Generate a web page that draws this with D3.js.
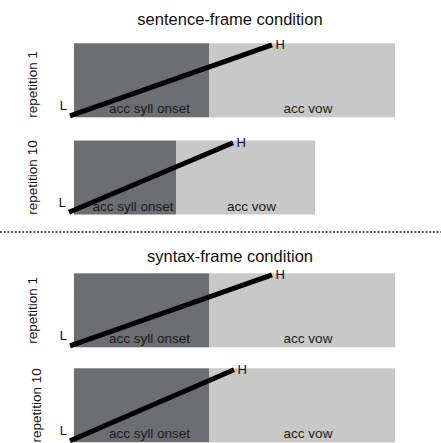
<!DOCTYPE html>
<html>
<head>
<meta charset="utf-8">
<script src="https://cdn.jsdelivr.net/npm/d3@7"></script>
<style>
  html, body { margin: 0; padding: 0; background: #fff; }
  svg { display: block; }
  text { font-family: "Liberation Sans", Arial, sans-serif; }
</style>
</head>
<body>
<script>
// ---- data ----
const conditions   = ["sentence-frame condition", "syntax-frame condition"];
const panelCond    = [0, 0, 1, 1];
const panelLabels  = ["repetition 1", "repetition 10", "repetition 1", "repetition 10"];
const onsetDur     = [135, 102, 135, 135];   // accented syllable onset duration (time units)
const vowelDur     = [186, 139, 186, 186];   // accented vowel duration
const lTime        = [-4, -5, -4, -4];       // L target time relative to onset start
const hTime        = [198, 159, 198, 160];   // H target time relative to onset start
const lLevel       = [0.02, 0.03, 0.02, 0.02];
const hLevel       = [0.98, 0.97, 0.98, 0.98];
const segLabels    = ["acc syll onset", "acc vow"];
const toneLabels   = ["L", "H"];

// ---- layout ----
const W = 441, H = 443;
const panelTop = [43.3, 140.5, 273.3, 368.3];
const panelH = 74;
const titleY = [24.5, 262];
const sepY = 232;

const svg = d3.select("body").append("svg")
  .attr("width", W).attr("height", H);

const x = d3.scaleLinear().domain([0, 330]).range([74, 404]);

// titles
svg.selectAll("text.title").data(conditions).join("text")
  .attr("class", "title")
  .attr("x", 230)
  .attr("y", (d, i) => titleY[i])
  .attr("text-anchor", "middle")
  .attr("font-size", 16.5)
  .attr("fill", "#111")
  .text(d => d);

// separator
svg.append("line")
  .attr("x1", 0).attr("x2", W)
  .attr("y1", sepY).attr("y2", sepY)
  .attr("stroke", "#222")
  .attr("stroke-width", 1.6)
  .attr("stroke-dasharray", "2,1.7");

const labelShift = [4, 0, 0, 0];
const labelX = [33, 33, 33, 37];

panelLabels.forEach((lab, i) => {
  const top = panelTop[i];
  const y = d3.scaleLinear().domain([0, 1]).range([top + panelH, top]);
  const g = svg.append("g");

  const segs = [
    { start: 0, end: onsetDur[i], fill: "#6d6e71", label: segLabels[0], shift: 8 },
    { start: onsetDur[i], end: onsetDur[i] + vowelDur[i], fill: "#c8c8c8", label: segLabels[1], shift: 6 }
  ];

  g.selectAll("rect").data(segs).join("rect")
    .attr("x", d => x(d.start))
    .attr("width", d => x(d.end) - x(d.start))
    .attr("y", y(1))
    .attr("height", y(0) - y(1))
    .attr("fill", d => d.fill);

  g.selectAll("text.seg").data(segs).join("text")
    .attr("class", "seg")
    .attr("x", d => (x(d.start) + x(d.end)) / 2 + d.shift)
    .attr("y", y(0) - 4)
    .attr("text-anchor", "middle")
    .attr("font-size", 13.5)
    .attr("fill", "#1a1a1a")
    .text(d => d.label);

  // L-H line
  const pts = [[lTime[i], lLevel[i]], [hTime[i], hLevel[i]]];
  g.append("path")
    .attr("d", d3.line().x(d => x(d[0])).y(d => y(d[1]))(pts))
    .attr("stroke", "#000")
    .attr("stroke-width", 5)
    .attr("stroke-linecap", "butt")
    .attr("fill", "none");

  g.append("text")
    .attr("x", x(lTime[i]) - 3)
    .attr("y", y(lLevel[i]) - 5.5)
    .attr("text-anchor", "end")
    .attr("font-size", 13)
    .attr("fill", "#111")
    .text(toneLabels[0]);

  g.append("text")
    .attr("x", x(hTime[i]) + 3.5)
    .attr("y", y(hLevel[i]) + 4.5)
    .attr("text-anchor", "start")
    .attr("font-size", 13)
    .attr("fill", "#111")
    .text(toneLabels[1]);

  // row label
  const cy = top + panelH / 2 + labelShift[i];
  g.append("text")
    .attr("transform", `translate(${labelX[i] + 4},${cy}) rotate(-90)`)
    .attr("text-anchor", "middle")
    .attr("font-size", 13.5)
    .attr("fill", "#111")
    .text(lab);
});
</script>
</body>
</html>
